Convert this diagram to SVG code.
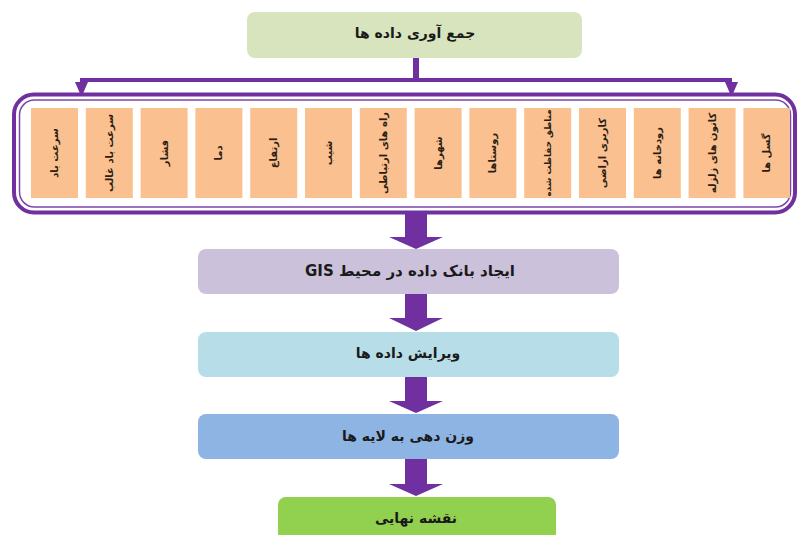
<svg xmlns="http://www.w3.org/2000/svg" width="798" height="535" viewBox="0 0 798 535">
<style>
.t{font-family:"DejaVu Sans",sans-serif;font-weight:bold;fill:#1a1a1a;text-anchor:middle;direction:rtl;unicode-bidi:embed}
.m{font-size:14px}
.s{font-size:10px;fill:#2b1d12}
.xs{font-size:8.8px}
.ob{fill:#fac090}
.pp{fill:#7030a0}
</style>
<rect width="798" height="535" fill="#ffffff"/>
<g id="connectors">
<rect class="pp" x="413" y="57" width="6" height="24"/>
<rect class="pp" x="80" y="78" width="652" height="4"/>
<polygon class="pp" points="75,82 88,82 81.5,97"/>
<polygon class="pp" points="725,82 738,82 731.5,97"/>
<polygon class="pp" points="405,213 427,213 427,237 443,237 416,249 389,237 405,237"/>
<polygon class="pp" points="405,294 427,294 427,318 443,318 416,331 389,318 405,318"/>
<polygon class="pp" points="405,377 427,377 427,401 443,401 416,413 389,401 405,401"/>
<polygon class="pp" points="405,459 427,459 427,484 443,484 416,496 389,484 405,484"/>
</g>
<g id="n-collect">
<rect x="247" y="12" width="335" height="46" rx="8" fill="#d7e4bd"/>
<text class="t m" x="415" y="38">جمع آوری داده ها</text>
</g>
<g id="n-frame">
<rect x="14" y="94.5" width="781" height="118" rx="20" fill="#ffffff" stroke="#7030a0" stroke-width="4"/>
<rect x="19.5" y="100" width="771" height="107" rx="15" fill="none" stroke="#7d45ad" stroke-width="1.5"/>
</g>
<g id="n-factors">
<g id="f1"><rect class="ob" x="31" y="108" width="47" height="90"/><text class="t s" transform="translate(58,153) rotate(-90)">سرعت باد</text></g>
<g id="f2"><rect class="ob" x="85.8" y="108" width="47" height="90"/><text class="t s" transform="translate(112.8,153) rotate(-90)">سرعت باد غالب</text></g>
<g id="f3"><rect class="ob" x="140.6" y="108" width="47" height="90"/><text class="t s" transform="translate(167.6,153) rotate(-90)">فشار</text></g>
<g id="f4"><rect class="ob" x="195.4" y="108" width="47" height="90"/><text class="t s" transform="translate(222.4,153) rotate(-90)">دما</text></g>
<g id="f5"><rect class="ob" x="250.2" y="108" width="47" height="90"/><text class="t s" transform="translate(277.2,153) rotate(-90)">ارتفاع</text></g>
<g id="f6"><rect class="ob" x="305" y="108" width="47" height="90"/><text class="t s" transform="translate(332,153) rotate(-90)">شیب</text></g>
<g id="f7"><rect class="ob" x="359.8" y="108" width="47" height="90"/><text class="t s" transform="translate(386.8,153) rotate(-90)">راه های ارتباطی</text></g>
<g id="f8"><rect class="ob" x="414.6" y="108" width="47" height="90"/><text class="t s" transform="translate(441.6,153) rotate(-90)">شهرها</text></g>
<g id="f9"><rect class="ob" x="469.4" y="108" width="47" height="90"/><text class="t s" transform="translate(496.4,153) rotate(-90)">روستاها</text></g>
<g id="f10"><rect class="ob" x="524.2" y="108" width="47" height="90"/><text class="t s xs" transform="translate(551.2,153) rotate(-90)">مناطق حفاظت شده</text></g>
<g id="f11"><rect class="ob" x="579" y="108" width="47" height="90"/><text class="t s" transform="translate(606,153) rotate(-90)">کاربری اراضی</text></g>
<g id="f12"><rect class="ob" x="633.8" y="108" width="47" height="90"/><text class="t s" transform="translate(660.8,153) rotate(-90)">رودخانه ها</text></g>
<g id="f13"><rect class="ob" x="688.6" y="108" width="47" height="90"/><text class="t s" transform="translate(715.6,153) rotate(-90)">کانون های زلزله</text></g>
<g id="f14"><rect class="ob" x="743.4" y="108" width="46.5" height="90"/><text class="t s" transform="translate(770.4,153) rotate(-90)">گسل ها</text></g>
</g>
<g id="n-gis">
<rect x="198" y="249" width="421" height="45" rx="8" fill="#ccc1da"/>
<text class="t m" x="410" y="276" style="font-size:15px">ایجاد بانک داده در محیط  GIS</text>
</g>
<g id="n-edit">
<rect x="198" y="332" width="421" height="45" rx="8" fill="#b7dee8"/>
<text class="t m" x="408" y="358">ویرایش داده ها</text>
</g>
<g id="n-weight">
<rect x="198" y="414" width="421" height="45" rx="8" fill="#8eb4e3"/>
<text class="t m" x="408" y="441">وزن دهی به لایه ها</text>
</g>
<g id="n-final">
<rect x="278" y="497" width="278" height="44" rx="8" fill="#92d050"/>
<text class="t m" x="416" y="523">نقشه نهایی</text>
</g>
</svg>
